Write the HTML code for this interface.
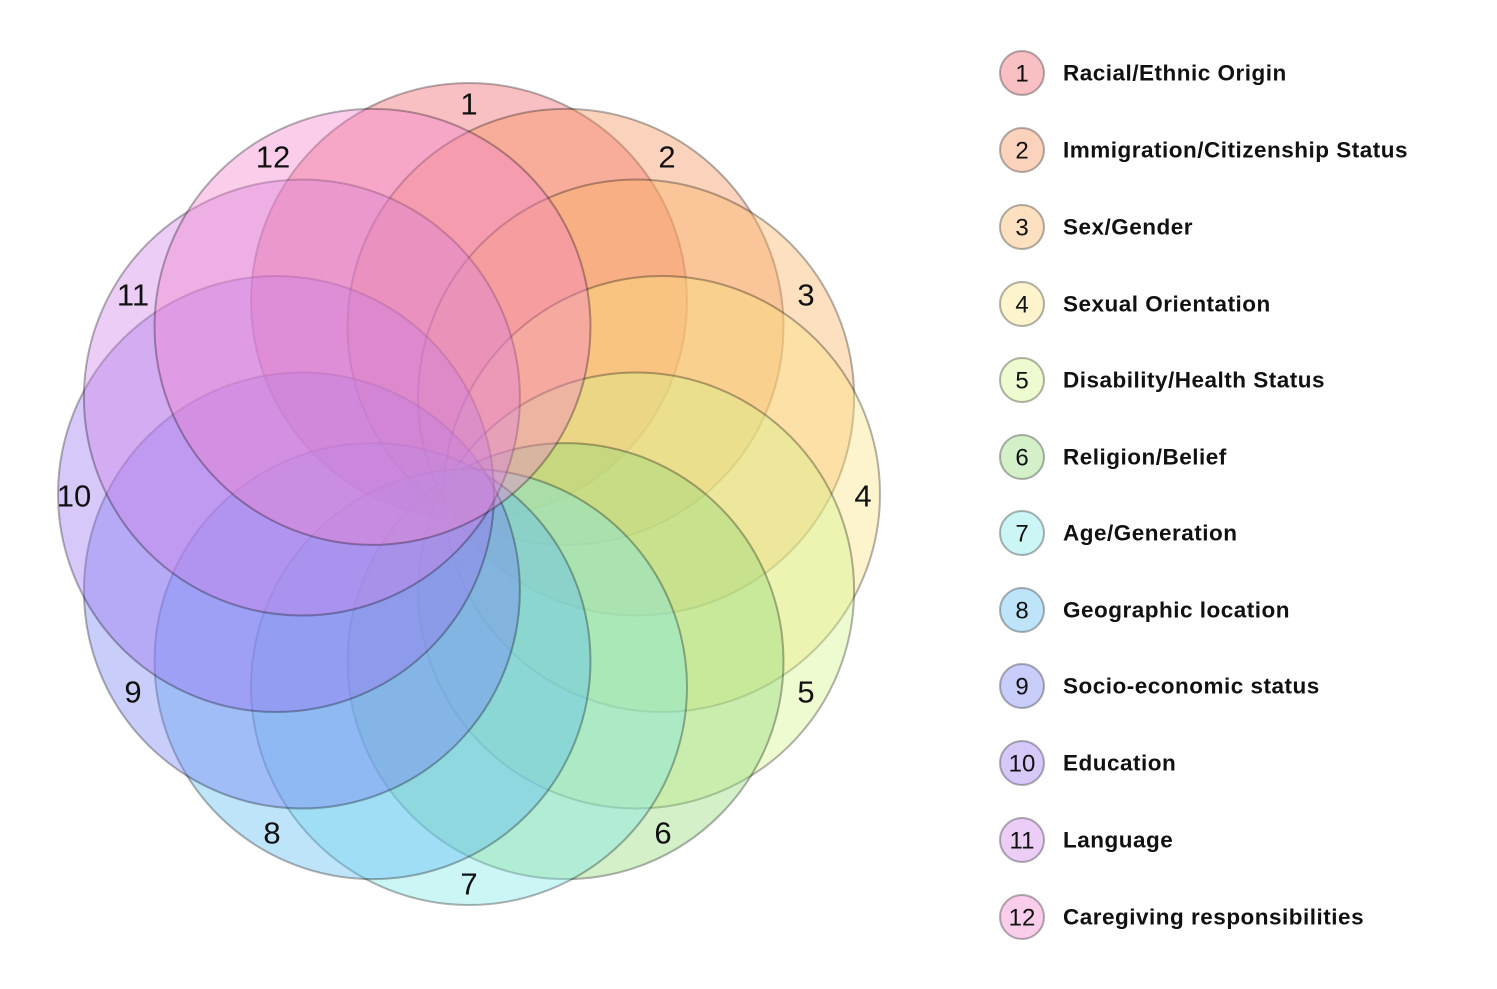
<!DOCTYPE html>
<html><head><meta charset="utf-8"><style>
html,body{margin:0;padding:0;background:#fff;}
svg{display:block;}
</style></head><body>
<svg width="1497" height="989" viewBox="0 0 1497 989" xmlns="http://www.w3.org/2000/svg">
<g stroke="rgba(0,0,0,0.3)" stroke-width="2">
<circle cx="469" cy="301" r="218" fill="rgba(240,98,108,0.4)"/>
<circle cx="565.5" cy="326.9" r="218" fill="rgba(245,145,90,0.4)"/>
<circle cx="636.1" cy="397.5" r="218" fill="rgba(250,177,97,0.4)"/>
<circle cx="662" cy="494" r="218" fill="rgba(250,225,127,0.4)"/>
<circle cx="636.1" cy="590.5" r="218" fill="rgba(212,242,137,0.4)"/>
<circle cx="565.5" cy="661.1" r="218" fill="rgba(145,217,120,0.4)"/>
<circle cx="469" cy="687" r="218" fill="rgba(127,230,230,0.4)"/>
<circle cx="372.5" cy="661.1" r="218" fill="rgba(92,187,242,0.4)"/>
<circle cx="301.9" cy="590.5" r="218" fill="rgba(117,130,242,0.4)"/>
<circle cx="276" cy="494" r="218" fill="rgba(155,117,242,0.4)"/>
<circle cx="301.9" cy="397.5" r="218" fill="rgba(205,130,230,0.4)"/>
<circle cx="372.5" cy="326.9" r="218" fill="rgba(242,130,205,0.4)"/>
</g>
<g font-family="Liberation Sans, sans-serif" font-size="31" fill="#111" text-anchor="middle" dominant-baseline="central">
<text x="469" y="104">1</text>
<text x="667" y="157">2</text>
<text x="806" y="295">3</text>
<text x="863" y="496">4</text>
<text x="806" y="692">5</text>
<text x="663" y="833">6</text>
<text x="469" y="884">7</text>
<text x="272" y="833">8</text>
<text x="133" y="692">9</text>
<text x="74" y="496">10</text>
<text x="133" y="295">11</text>
<text x="273" y="157">12</text>
</g>
<g stroke="rgba(0,0,0,0.3)" stroke-width="2">
<circle cx="1022" cy="73" r="22" fill="#f9c0c4"/>
<circle cx="1022" cy="150" r="22" fill="#fbd3bd"/>
<circle cx="1022" cy="227" r="22" fill="#fde0c0"/>
<circle cx="1022" cy="304" r="22" fill="#fdf3cc"/>
<circle cx="1022" cy="380" r="22" fill="#eefad0"/>
<circle cx="1022" cy="457" r="22" fill="#d3f0c9"/>
<circle cx="1022" cy="533" r="22" fill="#ccf5f5"/>
<circle cx="1022" cy="610" r="22" fill="#bee4fa"/>
<circle cx="1022" cy="686" r="22" fill="#c8cdfa"/>
<circle cx="1022" cy="763" r="22" fill="#d7c8fa"/>
<circle cx="1022" cy="840" r="22" fill="#ebcdf5"/>
<circle cx="1022" cy="917" r="22" fill="#facdeb"/>
</g>
<g font-family="Liberation Sans, sans-serif" font-size="24" fill="#111" text-anchor="middle" dominant-baseline="central">
<text x="1022" y="74">1</text><text x="1022" y="151">2</text><text x="1022" y="228">3</text>
<text x="1022" y="305">4</text><text x="1022" y="381">5</text><text x="1022" y="458">6</text>
<text x="1022" y="534">7</text><text x="1022" y="611">8</text><text x="1022" y="687">9</text>
<text x="1022" y="764">10</text><text x="1022" y="841">11</text><text x="1022" y="918">12</text>
</g>
<g font-family="Liberation Sans, sans-serif" font-size="22.5" letter-spacing="0.5" font-weight="bold" fill="#111" dominant-baseline="central">
<text x="1063" y="73">Racial/Ethnic Origin</text>
<text x="1063" y="150">Immigration/Citizenship Status</text>
<text x="1063" y="227">Sex/Gender</text>
<text x="1063" y="304">Sexual Orientation</text>
<text x="1063" y="380">Disability/Health Status</text>
<text x="1063" y="457">Religion/Belief</text>
<text x="1063" y="533">Age/Generation</text>
<text x="1063" y="610">Geographic location</text>
<text x="1063" y="686">Socio-economic status</text>
<text x="1063" y="763">Education</text>
<text x="1063" y="840">Language</text>
<text x="1063" y="917">Caregiving responsibilities</text>
</g>
</svg>
</body></html>
